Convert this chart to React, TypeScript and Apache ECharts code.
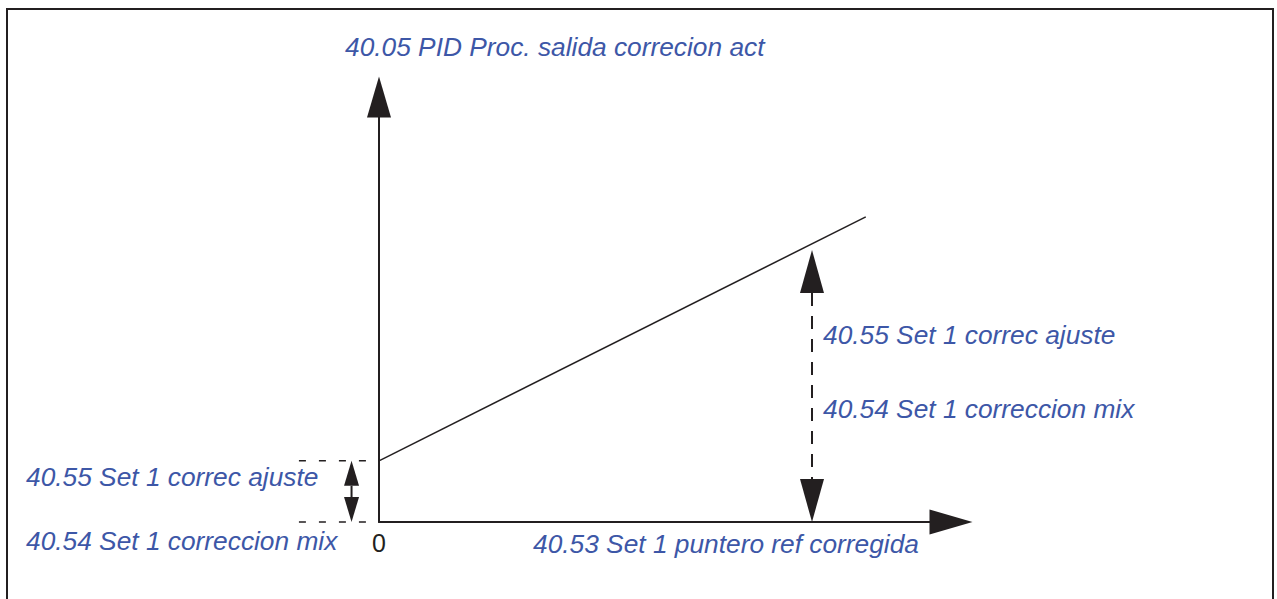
import React, { useEffect, useRef } from 'react';
import * as echarts from 'echarts';

// ---------- data (diagram units: both axes run 0..100) ----------
const X_MAX = 100;
const Y_MAX = 100;
const X_TICK_LABELS = ['0'];

// characteristic line: output correction vs. corrected setpoint
const responseLine: number[][] = [
  [0, 14.4],
  [85.1, 71.8],
];

// dashed guides marking the offset at the y axis (left side): [xStart, xEnd, y]
const offsetGuides: number[][] = [
  [-14, 0, 14.4],
  [-14, 0, 0],
];

// dimension markers: [x, topValue, bottomValue]
const smallDimension: number[][] = [[-4.8, 14.4, 0]];
const bigDimension: number[][] = [[75.7, 64.0, 0]];

// texts
const TITLE_Y = '40.05 PID Proc. salida correcion act';
const TITLE_X = '40.53 Set 1 puntero ref corregida';
const LBL_ADJUST = '40.55 Set 1 correc ajuste';
const LBL_MIX = '40.54 Set 1 correccion mix';

// ---------- styles ----------
const INK = '#231f20';
const BLUE = '#3d57a7';
const FONT = '"Liberation Sans", Arial, Helvetica, sans-serif';

function dimensionRenderer(arrowW: number, arrowH: number, dashed: boolean) {
  return (params: any, api: any) => {
    const x = api.value(0);
    const top = api.coord([x, api.value(1)]);
    const bottom = api.coord([x, api.value(2)]);
    const cx = top[0];
    const topBase = top[1] + arrowH;
    const bottomBase = bottom[1] - arrowH;
    return {
      type: 'group',
      children: [
        {
          type: 'line',
          shape: { x1: cx, y1: topBase, x2: cx, y2: bottomBase },
          style: {
            stroke: INK,
            lineWidth: 2,
            lineDash: dashed ? [13, 10] : null,
          },
        },
        {
          type: 'polygon',
          shape: {
            points: [
              [cx, top[1]],
              [cx - arrowW / 2, topBase],
              [cx + arrowW / 2, topBase],
            ],
          },
          style: { fill: INK },
        },
        {
          type: 'polygon',
          shape: {
            points: [
              [cx, bottom[1]],
              [cx - arrowW / 2, bottomBase],
              [cx + arrowW / 2, bottomBase],
            ],
          },
          style: { fill: INK },
        },
      ],
    };
  };
}

function guideRenderer(params: any, api: any) {
  const y = api.value(2);
  const a = api.coord([api.value(0), y]);
  const b = api.coord([api.value(1), y]);
  return {
    type: 'line',
    shape: { x1: a[0], y1: a[1], x2: b[0], y2: b[1] },
    style: { stroke: INK, lineWidth: 1.5, lineDash: [7, 13] },
  };
}

function blueText(text: string, x: number, y: number) {
  return {
    type: 'text',
    x,
    y,
    silent: true,
    style: {
      text,
      fill: BLUE,
      fontSize: 26.3,
      fontStyle: 'italic',
      fontFamily: FONT,
      align: 'left',
      verticalAlign: 'middle',
      textAlign: 'left',
      textVerticalAlign: 'middle',
    },
  };
}

export default function App() {
  const ref = useRef<HTMLDivElement>(null);

  useEffect(() => {
    if (!ref.current) return;
    const chart = echarts.init(ref.current, null, { renderer: 'svg' });
    const option: any = {
      animation: false,
      backgroundColor: '#ffffff',
      grid: { left: 379, right: 326, top: 97, bottom: 77, containLabel: false },
      xAxis: {
        type: 'value',
        min: 0,
        max: X_MAX,
        interval: 50,
        axisLine: {
          show: true,
          symbol: ['none', 'triangle'],
          symbolSize: [25, 43],
          lineStyle: { color: INK, width: 2 },
        },
        axisTick: { show: false },
        splitLine: { show: false },
        axisLabel: {
          show: true,
          formatter: (v: number) => (v === 0 ? X_TICK_LABELS[0] : ''),
          color: INK,
          fontSize: 25,
          fontFamily: FONT,
          margin: 8,
        },
      },
      yAxis: {
        type: 'value',
        min: 0,
        max: Y_MAX,
        axisLine: {
          show: true,
          symbol: ['none', 'triangle'],
          symbolSize: [24, 41],
          lineStyle: { color: INK, width: 2 },
        },
        axisTick: { show: false },
        splitLine: { show: false },
        axisLabel: { show: false },
      },
      series: [
        {
          type: 'line',
          data: responseLine,
          symbol: 'none',
          clip: false,
          lineStyle: { color: INK, width: 1.5 },
          z: 3,
        },
        {
          type: 'custom',
          data: offsetGuides,
          clip: false,
          renderItem: guideRenderer,
          z: 2,
        },
        {
          type: 'custom',
          data: smallDimension,
          clip: false,
          renderItem: dimensionRenderer(15, 25, false),
          z: 4,
        },
        {
          type: 'custom',
          data: bigDimension,
          clip: false,
          renderItem: dimensionRenderer(24, 43, true),
          z: 4,
        },
      ],
      graphic: [
        {
          type: 'rect',
          silent: true,
          shape: { x: 7, y: 9, width: 1266, height: 700 },
          style: { fill: 'none', stroke: INK, lineWidth: 2 },
        },
        blueText(TITLE_Y, 345, 47),
        blueText(LBL_ADJUST, 26, 477),
        blueText(LBL_MIX, 26, 541),
        blueText(TITLE_X, 533, 544),
        blueText(LBL_ADJUST, 823, 335),
        blueText(LBL_MIX, 823, 409),
      ],
    };
    chart.setOption(option);
    return () => chart.dispose();
  }, []);

  return (
    <div
      ref={ref}
      style={{ position: 'absolute', left: 0, top: 0, width: 1277, height: 599, background: '#fff' }}
    />
  );
}
